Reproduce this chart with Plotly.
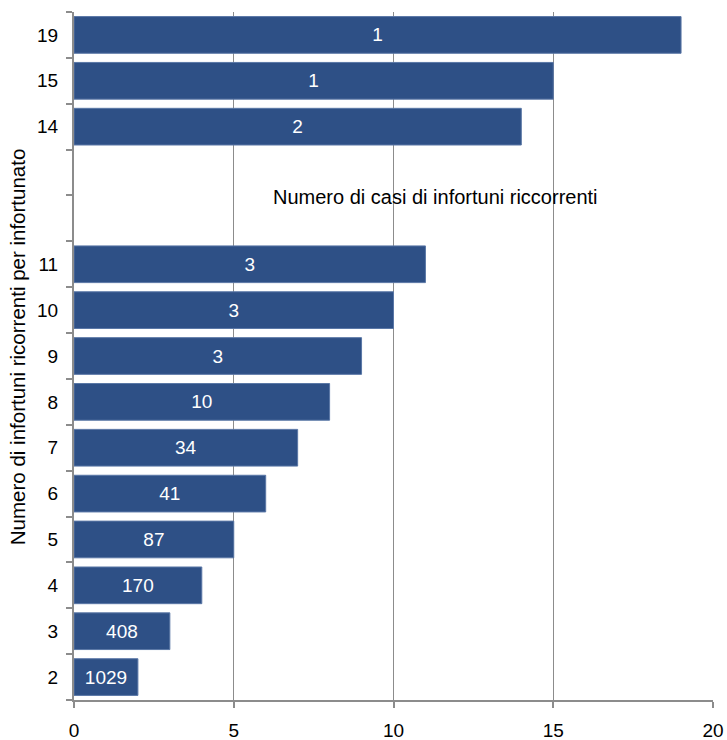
import plotly.graph_objects as go

# Number of recurrent injuries per injured worker (category) and cases per category
categories = ["2", "3", "4", "5", "6", "7", "8", "9", "10", "11", "14", "15", "19"]
bar_lengths = [2, 3, 4, 5, 6, 7, 8, 9, 10, 11, 14, 15, 19]
case_counts = [1029, 408, 170, 87, 41, 34, 10, 3, 3, 3, 2, 1, 1]

# Full category order, including the empty slots 12 and 13
axis_order = ["2", "3", "4", "5", "6", "7", "8", "9", "10", "11", "12", "13", "14", "15", "19"]
axis_labels = [c if c in categories else "" for c in axis_order]

x_ticks = [0, 5, 10, 15, 20]

bar_color = "#2E5086"
axis_gray = "#8C8C8C"
font_family = "Liberation Sans, Arial, sans-serif"

fig = go.Figure(
    go.Bar(
        x=bar_lengths,
        y=categories,
        orientation="h",
        text=[str(v) for v in case_counts],
        textposition="inside",
        insidetextanchor="middle",
        textfont=dict(color="white", size=19, family=font_family),
        marker=dict(color=bar_color, line=dict(color="#5A77A6", width=1)),
        cliponaxis=False,
    )
)

fig.update_layout(
    width=727,
    height=740,
    margin=dict(l=74, r=14, t=12, b=40),
    paper_bgcolor="white",
    plot_bgcolor="white",
    bargap=0.2,
    showlegend=False,
    font=dict(family=font_family, color="black", size=19),
    uniformtext=dict(minsize=19, mode="show"),
    annotations=[
        dict(
            text="Numero di casi di infortuni riccorrenti",
            x=0.566,
            y=0.750,
            xref="paper",
            yref="paper",
            showarrow=False,
            font=dict(size=20, color="black"),
        ),
        dict(
            text="Numero di infortuni ricorrenti per infortunato",
            x=-0.089,
            y=0.513,
            xref="paper",
            yref="paper",
            xanchor="center",
            yanchor="middle",
            textangle=-90,
            showarrow=False,
            font=dict(size=20.5, color="black"),
        ),
    ],
)

fig.update_xaxes(
    range=[0, 20],
    tickvals=x_ticks,
    ticktext=[str(v) for v in x_ticks],
    showgrid=True,
    gridcolor=axis_gray,
    gridwidth=1,
    zeroline=False,
    showline=True,
    linecolor=axis_gray,
    linewidth=2,
    ticks="outside",
    ticklen=6,
    tickcolor=axis_gray,
    tickwidth=1.5,
    ticklabelstandoff=6,
    tickfont=dict(size=19),
    automargin=False,
)

fig.update_yaxes(
    type="category",
    categoryorder="array",
    categoryarray=axis_order,
    tickmode="array",
    tickvals=axis_order,
    ticktext=axis_labels,
    range=[-0.5, len(axis_order) - 0.5],
    tickson="boundaries",
    ticks="outside",
    ticklen=6,
    tickcolor=axis_gray,
    tickwidth=1.5,
    showline=True,
    linecolor=axis_gray,
    linewidth=2,
    showgrid=False,
    ticklabelstandoff=10,
    tickfont=dict(size=19),
    automargin=False,
)

fig.write_html("out.html")
